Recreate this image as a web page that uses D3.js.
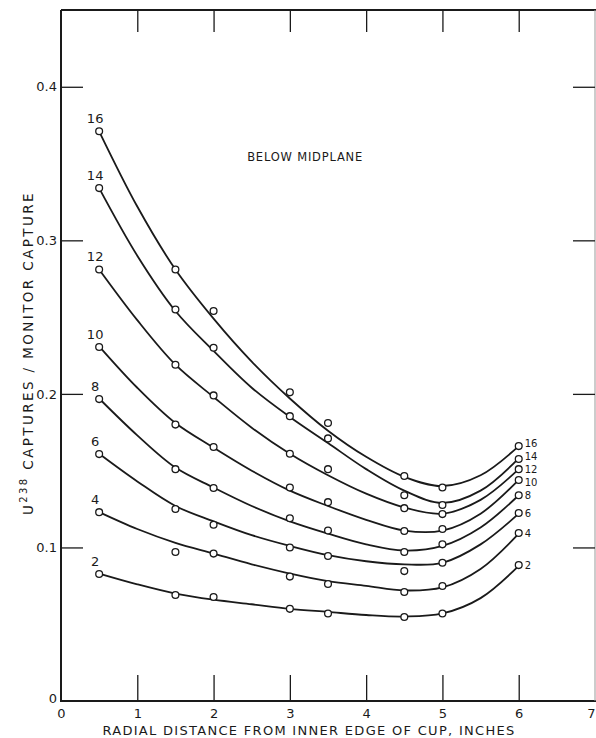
<!DOCTYPE html>
<html><head><meta charset="utf-8">
<script src="https://cdn.jsdelivr.net/npm/d3@7"></script>
<style>
body{margin:0;background:#fff;}
svg text{font-family:"DejaVu Sans",sans-serif;fill:#1a1a1a;}
</style></head>
<body><svg id="c" width="596" height="738"></svg>
<script>
// x positions of measurements (inches)
const xPoints = [0.5, 1.5, 2, 3, 3.5, 4.5, 5, 6];
const seriesNames = ["16","14","12","10","8","6","4","2"];
// measured points
const p16 = [0.371, 0.281, 0.254, 0.201, 0.181, 0.1465, 0.139, 0.166];
const p14 = [0.334, 0.255, 0.230, 0.1855, 0.171, 0.134, 0.1276, 0.1576];
const p12 = [0.281, 0.219, 0.199, 0.161, 0.151, 0.1256, 0.1217, 0.151];
const p10 = [0.2305, 0.180, 0.1654, 0.139, 0.1295, 0.1107, 0.112, 0.1439];
const p8  = [0.1966, 0.151, 0.1387, 0.119, 0.111, 0.097, 0.102, 0.134];
const p6  = [0.1608, 0.125, 0.1148, 0.100, 0.0944, 0.0846, 0.090, 0.1224];
const p4  = [0.123, 0.097, 0.096, 0.081, 0.0762, 0.071, 0.0749, 0.1094];
const p2  = [0.0827, 0.069, 0.0677, 0.060, 0.057, 0.0547, 0.057, 0.0885];
// smooth fitted curves
const xFit = [0.5, 1, 1.5, 2, 2.5, 3, 3.5, 4, 4.5, 5, 5.5, 6];
const f16 = [0.371, 0.322, 0.281, 0.249, 0.221, 0.197, 0.176, 0.159, 0.146, 0.140, 0.147, 0.166];
const f14 = [0.334, 0.290, 0.254, 0.228, 0.204, 0.185, 0.168, 0.151, 0.137, 0.129, 0.137, 0.158];
const f12 = [0.281, 0.248, 0.219, 0.198, 0.178, 0.161, 0.147, 0.135, 0.126, 0.122, 0.131, 0.151];
const f10 = [0.231, 0.204, 0.181, 0.165, 0.150, 0.137, 0.127, 0.118, 0.111, 0.111, 0.122, 0.144];
const f8  = [0.197, 0.173, 0.152, 0.139, 0.127, 0.117, 0.109, 0.102, 0.098, 0.101, 0.113, 0.134];
const f6  = [0.161, 0.143, 0.127, 0.117, 0.108, 0.101, 0.095, 0.091, 0.089, 0.090, 0.102, 0.122];
const f4  = [0.123, 0.112, 0.103, 0.096, 0.089, 0.083, 0.078, 0.075, 0.072, 0.074, 0.086, 0.109];
const f2  = [0.083, 0.076, 0.070, 0.066, 0.063, 0.060, 0.058, 0.056, 0.055, 0.057, 0.067, 0.088];
const xTicks = [0,1,2,3,4,5,6,7];
const yTicks = [0,0.1,0.2,0.3,0.4];
const xTitle = "RADIAL DISTANCE FROM INNER EDGE OF CUP, INCHES";
const annotation = "BELOW MIDPLANE";

const points = [p16,p14,p12,p10,p8,p6,p4,p2];
const fits = [f16,f14,f12,f10,f8,f6,f4,f2];
// vertical nudges (px) for the crowded right-hand labels
const rightNudge = [-3,-2,0,2,0,0,0,0];

const svg = d3.select("#c");
const x = d3.scaleLinear().domain([0,7]).range([61,595]);
const y = d3.scaleLinear().domain([0,0.45]).range([701,10]);
const ink = "#1a1a1a";

// frame
svg.append("line").attr("x1",61).attr("x2",61).attr("y1",10).attr("y2",702).attr("stroke",ink).attr("stroke-width",2);
svg.append("line").attr("x1",60).attr("x2",596).attr("y1",701).attr("y2",701).attr("stroke",ink).attr("stroke-width",2.2);
svg.append("line").attr("x1",61).attr("x2",596).attr("y1",10).attr("y2",10).attr("stroke",ink).attr("stroke-width",2);
svg.append("line").attr("x1",595).attr("x2",595).attr("y1",10).attr("y2",701).attr("stroke","#999").attr("stroke-width",1);

// bottom axis
const gb = svg.append("g").attr("transform","translate(0,701)")
  .call(d3.axisBottom(x).tickValues(xTicks).tickSize(-26).tickPadding(8).tickFormat(d3.format("d")));
gb.select(".domain").remove();
gb.selectAll(".tick line").attr("stroke",ink).attr("stroke-width",1.3).filter(d=>d===0||d===7).remove();
gb.selectAll(".tick text").attr("font-size",13).attr("fill",ink)
  .filter(d=>d===7).attr("x",-4);

// top axis
const gt = svg.append("g").attr("transform","translate(0,10)")
  .call(d3.axisTop(x).tickValues([1,2,3,4,5,6]).tickSize(-22).tickFormat(""));
gt.select(".domain").remove();
gt.selectAll(".tick line").attr("stroke",ink).attr("stroke-width",1.3);

// left axis
const gl = svg.append("g").attr("transform","translate(61,0)")
  .call(d3.axisLeft(y).tickValues(yTicks).tickSize(-22).tickPadding(6)
    .tickFormat(d=> d===0 ? "0" : d.toFixed(1)));
gl.select(".domain").remove();
gl.selectAll(".tick line").attr("stroke",ink).attr("stroke-width",1.3).filter(d=>d===0).remove();
gl.selectAll(".tick text").attr("font-size",13).attr("fill",ink).attr("x",-4)
  .filter(d=>d===0).attr("dy","0.1em");

// right axis
const gr = svg.append("g").attr("transform","translate(595,0)")
  .call(d3.axisRight(y).tickValues([0.1,0.2,0.3,0.4]).tickSize(-22).tickFormat(""));
gr.select(".domain").remove();
gr.selectAll(".tick line").attr("stroke",ink).attr("stroke-width",1.3);

// curves
const line = d3.line().x(d=>x(d[0])).y(d=>y(d[1])).curve(d3.curveCatmullRom.alpha(0.5));
fits.forEach((f,i)=>{
  svg.append("path").datum(xFit.map((xv,j)=>[xv,f[j]]))
    .attr("d",line).attr("fill","none").attr("stroke",ink).attr("stroke-width",1.8);
});
points.forEach((p,i)=>{
  svg.append("g").selectAll("circle").data(xPoints.map((xv,j)=>[xv,p[j]])).join("circle")
    .attr("cx",d=>x(d[0])).attr("cy",d=>y(d[1])).attr("r",3.4)
    .attr("fill","#fff").attr("stroke",ink).attr("stroke-width",1.3);
});

// curve labels
seriesNames.forEach((n,i)=>{
  const p = points[i];
  svg.append("text").attr("x",x(xPoints[0])-4).attr("y",y(p[0])-13)
    .attr("text-anchor","middle").attr("dominant-baseline","central")
    .attr("font-size",13).text(n);
  svg.append("text").attr("x",x(xPoints[xPoints.length-1])+6).attr("y",y(p[p.length-1])+rightNudge[i])
    .attr("text-anchor","start").attr("dominant-baseline","central")
    .attr("font-size",10).text(n);
});

// annotation
svg.append("text").attr("x",x(3.2)).attr("y",y(0.354)).attr("text-anchor","middle")
  .attr("dominant-baseline","central").attr("font-size",11.5).attr("letter-spacing",0.8).text(annotation);

// axis titles
svg.append("text").attr("x",309).attr("y",730).attr("text-anchor","middle")
  .attr("dominant-baseline","central").attr("font-size",13).attr("letter-spacing",1.3).text(xTitle);

const yt = svg.append("text").attr("transform","translate(28,353) rotate(-90)")
  .attr("text-anchor","middle").attr("dominant-baseline","central")
  .attr("font-size",13.5).attr("letter-spacing",2.4);
yt.append("tspan").text("U");
yt.append("tspan").attr("font-size",10).attr("dy","-0.5em").text("238");
yt.append("tspan").attr("dy","0.4em").text("  CAPTURES / MONITOR  CAPTURE");
</script></body></html>
